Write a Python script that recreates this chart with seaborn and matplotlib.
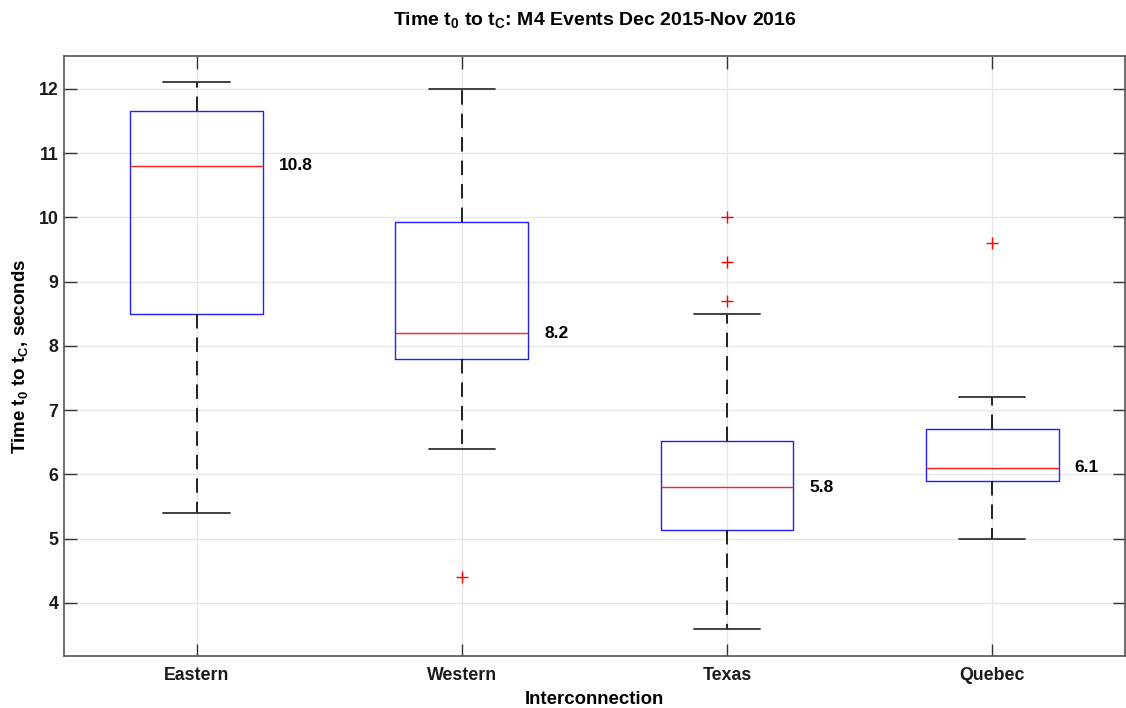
import matplotlib
matplotlib.use("Agg")
import matplotlib.pyplot as plt
import seaborn as sns

# Box statistics per interconnection (seconds from t0 to tC)
regions = ["Eastern", "Western", "Texas", "Quebec"]
whisker_low = [5.4, 6.4, 3.6, 5.0]
q1 = [8.5, 7.8, 5.13, 5.9]
median = [10.8, 8.2, 5.8, 6.1]
q3 = [11.65, 9.93, 6.52, 6.7]
whisker_high = [12.1, 12.0, 8.5, 7.2]

# Individual outlying events
outlier_region = ["Western", "Texas", "Texas", "Texas", "Quebec"]
outlier_value = [4.4, 8.7, 9.3, 10.0, 9.6]

yticks = [4, 5, 6, 7, 8, 9, 10, 11, 12]

sns.set_style("whitegrid")
plt.rcParams.update({
    "font.family": ["Liberation Sans", "DejaVu Sans"],
    "font.weight": "bold",
    "text.color": "#000000",
    "axes.labelcolor": "#000000",
    "axes.titlecolor": "#000000",
    "mathtext.fontset": "custom",
    "mathtext.rm": "Liberation Sans:bold",
    "mathtext.it": "Liberation Sans:bold",
    "mathtext.bf": "Liberation Sans:bold",
    "mathtext.default": "rm",
})

fig = plt.figure(figsize=(11.26, 7.08), dpi=100)
ax = fig.add_axes([0.0568, 0.0734, 0.9422, 0.8476])

positions = list(range(len(regions)))
stats = [
    dict(whislo=lo, q1=a, med=m, q3=b, whishi=hi, fliers=[], label=r)
    for r, lo, a, m, b, hi in zip(regions, whisker_low, q1, median, q3, whisker_high)
]
ax.bxp(
    stats,
    positions=positions,
    widths=0.5,
    showfliers=False,
    boxprops=dict(color="#2020ff", linewidth=1.0),
    medianprops=dict(color="#ff2020", linewidth=1.0),
    whiskerprops=dict(color="#111111", linewidth=1.3, linestyle=(0, (8, 5))),
    capprops=dict(color="#333333", linewidth=1.3),
    capwidths=0.25,
    zorder=3,
)

sns.scatterplot(
    x=[regions.index(r) for r in outlier_region],
    y=outlier_value,
    marker="+",
    color="#ff0000",
    s=70,
    linewidth=1.0,
    ax=ax,
    zorder=4,
)

for pos, m in zip(positions, median):
    ax.text(pos + 0.31, m, f"{m:.1f}", ha="left", va="center",
            fontsize=12.5, fontweight="bold", color="#000000")

ax.set_xlim(-0.5, 3.5)
ax.set_ylim(3.175, 12.51)
ax.set_xticks(positions)
ax.set_xticklabels(regions)
ax.set_yticks(yticks)
ax.grid(True, color="#e6e6e6", linewidth=0.9)
ax.set_axisbelow(True)

for side in ["left", "right", "top", "bottom"]:
    ax.spines[side].set_visible(True)
    ax.spines[side].set_color("#555555")
    ax.spines[side].set_linewidth(1.2)

ax.tick_params(axis="both", direction="in", length=9, width=1.0, color="#333333",
               labelsize=12.8, labelcolor="#1a1a1a", top=True, right=True,
               bottom=True, left=True)
ax.tick_params(axis="x", pad=8)
ax.tick_params(axis="y", pad=4)
for lbl in ax.get_xticklabels() + ax.get_yticklabels():
    lbl.set_fontweight("bold")

ax.set_xlabel("Interconnection", fontsize=13.4, fontweight="bold", labelpad=5)
ax.set_ylabel(r"Time t$_0$ to t$_C$, seconds", fontsize=13.5, fontweight="bold", labelpad=6)
ax.set_title(r"Time t$_0$ to t$_C$: M4 Events Dec 2015-Nov 2016",
             fontsize=14, fontweight="bold", pad=22)

fig.savefig("out.png", dpi=100, facecolor="white")
